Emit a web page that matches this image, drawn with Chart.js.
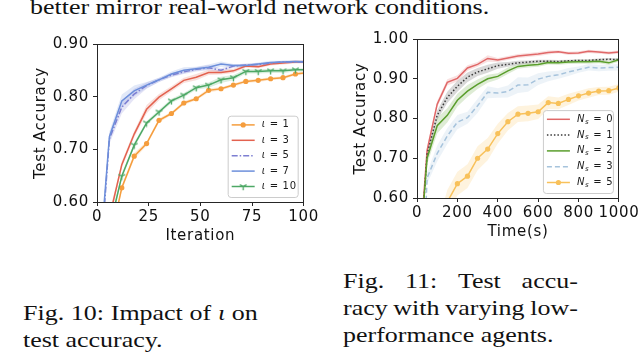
<!DOCTYPE html>
<html><head><meta charset="utf-8">
<script src="https://cdn.jsdelivr.net/npm/chart.js@4.4.1/dist/chart.umd.min.js"></script>
<style>
html,body{margin:0;padding:0;background:#fff;width:640px;height:356px;overflow:hidden;position:relative}
canvas{position:absolute;top:0}
#c1{left:0}
#c2{left:320px}
.t{position:absolute;font-family:"Liberation Serif","Times New Roman",serif;font-size:22px;line-height:27px;color:#111;white-space:nowrap;transform:scaleX(1.18);transform-origin:0 0}
.j{display:flex;justify-content:space-between;align-items:baseline;gap:4.5px;width:199px}
</style></head>
<body>
<div class="t" style="left:30px;top:-7px">better mirror real-world network conditions.</div>
<canvas id="c1" width="320" height="260"></canvas>
<canvas id="c2" width="320" height="260"></canvas>
<div class="t j" style="left:23px;top:299px"><span>Fig.</span><span>10:</span><span>Impact</span><span>of</span><span><i>ι</i></span><span>on</span></div>
<div class="t" style="left:23px;top:326px">test accuracy.</div>
<div class="t j" style="left:343px;top:267px"><span>Fig.</span><span>11:</span><span>Test</span><span>accu-</span></div>
<div class="t j" style="left:343px;top:294px"><span>racy</span><span>with</span><span>varying</span><span>low-</span></div>
<div class="t" style="left:343px;top:321px">performance agents.</div>
<script>
// ---------- Fig. 10 data ----------
const iterations = [0,6,12,18,24,30,36,42,48,54,60,66,72,78,84,90,96,102];
const iotaLabels = [1,3,5,7,10];
const acc_iota1  = [0.10,0.52,0.627,0.687,0.711,0.755,0.768,0.788,0.796,0.812,0.815,0.822,0.829,0.831,0.834,0.836,0.843,0.846];
const acc_iota3  = [0.10,0.57,0.671,0.729,0.776,0.799,0.815,0.831,0.837,0.846,0.846,0.849,0.858,0.857,0.862,0.864,0.866,0.866];
const acc_iota5  = [0.40,0.720,0.780,0.805,0.821,0.832,0.841,0.847,0.852,0.855,0.850,0.858,0.860,0.861,0.864,0.866,0.866,0.866];
const acc_iota7  = [0.426,0.724,0.792,0.811,0.822,0.832,0.843,0.850,0.853,0.856,0.862,0.859,0.859,0.862,0.865,0.866,0.867,0.866];
const acc_iota10 = [0.10,0.55,0.649,0.708,0.750,0.771,0.792,0.803,0.817,0.822,0.832,0.836,0.848,0.848,0.849,0.849,0.851,0.851];
const sd_iota1  = [0,0.010,0.005,0.006,0.004,0.004,0.003,0.004,0.003,0.004,0.003,0.003,0.003,0.003,0.003,0.003,0.003,0.003];
const sd_iota3  = [0,0.010,0.006,0.006,0.008,0.006,0.005,0.005,0.006,0.005,0.004,0.004,0.003,0.003,0.003,0.003,0.003,0.003];
const sd_iota5  = [0,0.010,0.012,0.010,0.006,0.004,0.004,0.004,0.004,0.005,0.004,0.003,0.003,0.003,0.002,0.002,0.002,0.002];
const sd_iota7  = [0,0.010,0.012,0.010,0.006,0.004,0.005,0.006,0.004,0.005,0.005,0.003,0.003,0.003,0.003,0.002,0.002,0.002];
const sd_iota10 = [0,0.010,0.005,0.005,0.004,0.004,0.004,0.004,0.004,0.005,0.006,0.005,0.004,0.004,0.004,0.004,0.003,0.003];
const iterTicks = [0,25,50,75,100];
const accTicks1 = [0.60,0.70,0.80,0.90];

// ---------- Fig. 11 data ----------
const times = [0,50,100,150,200,250,300,350,400,450,500,550,600,650,700,750,800,850,900,950,1000];
const nsLabels = [0,1,2,3,5];
const acc_ns0 = [0.37,0.720,0.836,0.891,0.901,0.927,0.936,0.951,0.947,0.952,0.957,0.960,0.962,0.966,0.968,0.964,0.965,0.969,0.967,0.965,0.967];
const acc_ns1 = [0.34,0.710,0.808,0.853,0.881,0.904,0.917,0.925,0.933,0.936,0.940,0.942,0.944,0.944,0.943,0.945,0.946,0.946,0.948,0.949,0.948];
const acc_ns2 = [0.37,0.700,0.782,0.808,0.846,0.869,0.886,0.900,0.906,0.920,0.931,0.934,0.936,0.941,0.940,0.942,0.943,0.943,0.944,0.940,0.948];
const acc_ns3 = [0.05,0.650,0.712,0.756,0.791,0.802,0.832,0.866,0.864,0.868,0.884,0.885,0.899,0.906,0.910,0.917,0.923,0.929,0.927,0.928,0.929];
const acc_ns5 = [0.10,0.35,0.50,0.59,0.636,0.655,0.700,0.723,0.762,0.792,0.811,0.813,0.817,0.840,0.838,0.848,0.857,0.864,0.869,0.870,0.877];
const sd_ns0 = [0,0.010,0.008,0.008,0.008,0.007,0.006,0.008,0.005,0.005,0.005,0.005,0.005,0.005,0.004,0.004,0.004,0.004,0.004,0.004,0.004];
const sd_ns1 = [0,0.010,0.012,0.014,0.014,0.012,0.010,0.010,0.008,0.006,0.005,0.004,0.004,0.004,0.004,0.003,0.003,0.003,0.003,0.003,0.003];
const sd_ns2 = [0,0.015,0.020,0.018,0.016,0.015,0.012,0.010,0.008,0.008,0.006,0.006,0.006,0.005,0.005,0.005,0.005,0.005,0.005,0.005,0.005];
const sd_ns3 = [0,0.015,0.020,0.020,0.018,0.015,0.018,0.015,0.012,0.015,0.020,0.018,0.015,0.012,0.010,0.010,0.008,0.008,0.008,0.008,0.008];
const sd_ns5 = [0,0.020,0.030,0.030,0.030,0.030,0.030,0.028,0.025,0.022,0.020,0.020,0.018,0.016,0.015,0.014,0.012,0.012,0.010,0.010,0.010];
const timeTicks = [0,200,400,600,800,1000];
const accTicks2 = [0.60,0.70,0.80,0.90,1.00];

// ---------- helpers ----------
const FONT = '"DejaVu Sans", Verdana, sans-serif';
function rgba(hex, a) {
  const n = parseInt(hex.slice(1), 16);
  return `rgba(${n>>16&255},${n>>8&255},${n&255},${a})`;
}
function triDown(color) {
  const s = 9, c = document.createElement('canvas');
  c.width = c.height = s;
  const g = c.getContext('2d'), r = 3.8, cx = s/2, cy = s/2;
  g.strokeStyle = color; g.lineWidth = 1.3;
  g.beginPath();
  g.moveTo(cx, cy); g.lineTo(cx, cy + r);
  g.moveTo(cx, cy); g.lineTo(cx - r*0.866, cy - r*0.5);
  g.moveTo(cx, cy); g.lineTo(cx + r*0.866, cy - r*0.5);
  g.stroke();
  return c;
}
function series(xs, ys, sd, color, style, legendSegs, order) {
  const pts = k => xs.map((x, i) => ({x, y: ys[i] + k * sd[i]}));
  const band = {order: 100, clip: 0, pointRadius: 0, borderWidth: 0, tension: 0};
  return [
    Object.assign({}, band, {data: pts(-1), fill: false}),
    Object.assign({}, band, {data: pts(1), fill: '-1', backgroundColor: rgba(color, 0.2)}),
    Object.assign({
      data: pts(0), borderColor: color, backgroundColor: color, borderWidth: 1.5,
      fill: false, clip: 0, tension: 0, order, pointRadius: 0, legendSegs
    }, style)
  ];
}
const stretchText = {
  id: 'stretchText',
  beforeDraw(chart) { if ('letterSpacing' in chart.ctx) chart.ctx.letterSpacing = '0.7px'; }
};
const frameLegend = {
  id: 'frameLegend',
  afterDatasetsDraw(chart, args, o) {
    const {ctx, chartArea: a} = chart;
    ctx.save();
    ctx.strokeStyle = '#262626'; ctx.lineWidth = 1;
    ctx.strokeRect(Math.round(a.left) + 0.5, Math.round(a.top) + 0.5,
                   Math.round(a.right - a.left) - 1, Math.round(a.bottom - a.top));
    const items = chart.data.datasets.filter(d => d.legendSegs);
    const w = o.width, rowH = o.rowH, h = o.padT + rowH * (items.length - 1) + o.padB;
    const x0 = a.right - 6 - w, y0 = a.bottom - 5 - h;
    ctx.beginPath();
    ctx.roundRect(x0 + 0.5, y0 + 0.5, w, h, 3);
    ctx.fillStyle = 'rgba(255,255,255,0.8)'; ctx.fill();
    ctx.strokeStyle = '#cccccc'; ctx.lineWidth = 1; ctx.stroke();
    items.forEach((d, i) => {
      const y = y0 + o.padT + i * rowH;
      const l1 = x0 + 4, l2 = x0 + 27;
      ctx.beginPath();
      ctx.setLineDash(d.borderDash || []);
      ctx.strokeStyle = d.borderColor; ctx.lineWidth = d.borderWidth;
      ctx.moveTo(l1, y); ctx.lineTo(l2, y); ctx.stroke();
      ctx.setLineDash([]);
      const mx = (l1 + l2) / 2;
      if (d.pointStyle === 'circle' && d.pointRadius > 0) {
        ctx.beginPath(); ctx.arc(mx, y, d.pointRadius, 0, Math.PI*2);
        ctx.fillStyle = d.borderColor; ctx.fill();
      } else if (d.pointStyle instanceof HTMLCanvasElement) {
        ctx.drawImage(d.pointStyle, mx - d.pointStyle.width/2, y - d.pointStyle.height/2);
      }
      let tx = x0 + 34;
      ctx.fillStyle = '#1a1a1a'; ctx.textBaseline = 'middle'; ctx.textAlign = 'left';
      d.legendSegs.forEach(sg => {
        let f = `10px ${FONT}`, dy = 0;
        if (sg.s === 'i') f = `italic 10px ${FONT}`;
        if (sg.s === 'sub') { f = `italic 7px ${FONT}`; dy = 2.5; }
        ctx.font = f;
        ctx.fillText(sg.t, tx, y + dy);
        tx += ctx.measureText(sg.t).width;
      });
    });
    ctx.restore();
  }
};
function options(p) {
  const font = {family: FONT, size: 15};
  const grid = {drawOnChartArea: false, drawTicks: true, tickLength: 4, color: '#262626', tickColor: '#262626', lineWidth: 1};
  return {
    responsive: false, animation: false, events: [],
    layout: {padding: {left: 0, top: p.top, right: p.right, bottom: 0}},
    plugins: {
      legend: {display: false}, tooltip: {enabled: false},
      filler: {drawTime: 'beforeDatasetsDraw', propagate: false},
      frameLegend: {width: 70, rowH: p.rowH, padT: 9.2, padB: 10.5}
    },
    scales: {
      x: {
        type: 'linear', min: p.xmin, max: p.xmax,
        afterFit: s => { s.height = p.xh; },
        afterBuildTicks: s => { s.ticks = p.xticks.map(v => ({value: v})); },
        ticks: {font, color: '#111', padding: 2, maxRotation: 0, autoSkip: false, callback: v => String(v)},
        grid, border: {display: false},
        title: {display: true, text: p.xtitle, font, color: '#111', padding: {top: 0, bottom: p.xtp}}
      },
      y: {
        type: 'linear', min: p.ymin, max: p.ymax,
        afterFit: s => { s.width = 97; },
        afterBuildTicks: s => { s.ticks = p.yticks.map(v => ({value: v})); },
        ticks: {font, color: '#111', padding: 4, autoSkip: false, callback: v => v.toFixed(2)},
        grid, border: {display: false},
        title: {display: true, text: 'Test Accuracy', font, color: '#111', padding: {top: 32, bottom: 0}}
      }
    }
  };
}

// ---------- Fig. 10 ----------
const iotaSegs = iotaLabels.map(v => [{t: 'ι', s: 'i'}, {t: ' = ' + v, s: 'n'}]);
const ds1 = [
  ...series(iterations, acc_iota1, sd_iota1, '#f59d3d', {pointStyle: 'circle', pointRadius: 2.6, pointBorderWidth: 0}, iotaSegs[0], 5),
  ...series(iterations, acc_iota3, sd_iota3, '#e3624f', {}, iotaSegs[1], 4),
  ...series(iterations, acc_iota5, sd_iota5, '#7d7fd2', {borderDash: [6, 2, 1.5, 2]}, iotaSegs[2], 3),
  ...series(iterations, acc_iota7, sd_iota7, '#6d8fdb', {}, iotaSegs[3], 2),
  ...series(iterations, acc_iota10, sd_iota10, '#4da865', {pointStyle: triDown('#4da865'), pointRadius: 4}, iotaSegs[4], 1)
];
new Chart(document.getElementById('c1'), {
  type: 'line', data: {datasets: ds1},
  options: options({top: 44, right: 16, xh: 58, xtp: 15, xmin: 0, xmax: 100, ymin: 0.6, ymax: 0.9,
    xticks: iterTicks, yticks: accTicks1, xtitle: 'Iteration', rowH: 15.4}),
  plugins: [stretchText, frameLegend]
});

// ---------- Fig. 11 ----------
const nsSegs = nsLabels.map(v => [{t: 'N', s: 'i'}, {t: 's', s: 'sub'}, {t: ' = ' + v, s: 'n'}]);
const ds2 = [
  ...series(times, acc_ns0, sd_ns0, '#e06868', {}, nsSegs[0], 5),
  ...series(times, acc_ns1, sd_ns1, '#3a3a3a', {borderDash: [1.5, 2]}, nsSegs[1], 4),
  ...series(times, acc_ns2, sd_ns2, '#5a9e2c', {}, nsSegs[2], 3),
  ...series(times, acc_ns3, sd_ns3, '#a6c3dc', {borderDash: [5, 3]}, nsSegs[3], 2),
  ...series(times, acc_ns5, sd_ns5, '#f8c15a', {pointStyle: 'circle', pointRadius: 2.6, pointBorderWidth: 0}, nsSegs[4], 1)
];
new Chart(document.getElementById('c2'), {
  type: 'line', data: {datasets: ds2},
  options: options({top: 39, right: 20, xh: 62, xtp: 19, xmin: 0, xmax: 1000, ymin: 0.6, ymax: 1.0,
    xticks: timeTicks, yticks: accTicks2, xtitle: 'Time(s)', rowH: 15.8}),
  plugins: [stretchText, frameLegend]
});
</script>
</body></html>
